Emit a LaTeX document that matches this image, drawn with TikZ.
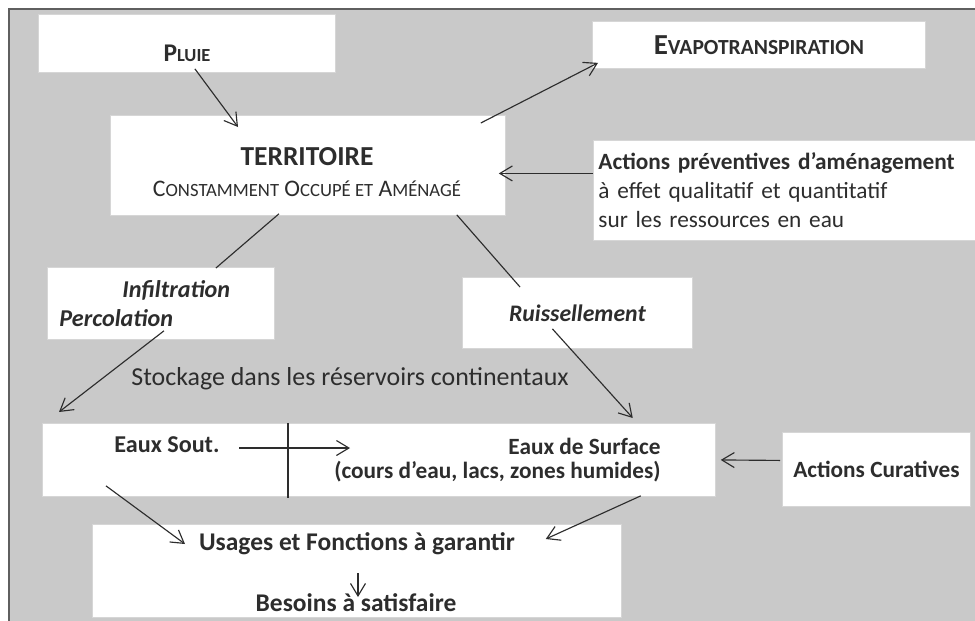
\documentclass[tikz,border=0pt]{standalone}
\usepackage{fontspec}
\setmainfont{Carlito}[Scale=1.25]
\usepackage{tikz}
\usetikzlibrary{positioning,calc,arrows.meta}

\definecolor{bgray}{RGB}{201,201,201}
\definecolor{frameline}{RGB}{95,95,95}
\definecolor{boxline}{RGB}{214,214,214}
\definecolor{ink}{RGB}{45,45,45}
\newcommand{\fsz}[2]{\fontsize{#1}{#2}\selectfont}

\begin{document}
\begin{tikzpicture}[x=0.02cm, y=-0.02cm,
    box/.style={draw=boxline, fill=white, line width=0.5pt, inner sep=0pt, anchor=north west, text=ink},
    txt/.style={inner sep=0pt, text=ink},
    link/.style={draw=ink, line width=0.65pt},
    arr/.style={link, -{Straight Barb[length=2.5mm, width=3mm]}}]

  % Page and frame
  \useasboundingbox (0,0) rectangle (975,620);
  \clip (0,0) rectangle (975,620);
  \fill[white] (0,0) rectangle (975,620);
  \filldraw[fill=bgray, draw=frameline, line width=1.2pt] (9,9) rectangle (995,640);

  % Top row
  \node[box, minimum width=5.94cm, minimum height=1.16cm] (pluie) at (38,14) {};
  \node[txt, font=\bfseries\fsz{11.6}{14}] (pluietxt) at (187,53) {P{\fsz{8.4}{10}LUIE}};
  \node[box, minimum width=6.66cm, minimum height=0.94cm, font=\bfseries\fsz{13.2}{16}] (evapo) at (592,21)
    {E{\fsz{9.8}{12}VAPOTRANSPIRATION}};

  % Territoire
  \node[box, minimum width=7.9cm, minimum height=2cm] (terr) at (110,115) {};
  \node[txt, align=center, font=\fsz{10.8}{18.1}] (terrtxt) at (307,172) {{\bfseries\fsz{12.5}{18.1}TERRITOIRE}\\
    C{\fsz{8.5}{10}ONSTAMMENT} O{\fsz{8.5}{10}CCUPÉ ET} A{\fsz{8.5}{10}MÉNAGÉ}};
  \node[box, minimum width=7.9cm, minimum height=2cm, inner xsep=0.1cm, text width=7.7cm, align=left,
    font=\fsz{10.6}{16.5}] (prev) at (593,140) {{\bfseries Actions préventives d’aménagement}\\
    à effet qualitatif et quantitatif\\ sur les ressources en eau};

  % Flows
  \node[box, minimum width=4.54cm, minimum height=1.44cm, inner xsep=0.24cm, text width=4.06cm,
    align=left, font=\bfseries\itshape\fsz{11}{16.5}] (infil) at (47,267) {\hspace*{1.26cm}Infiltration\\Percolation};
  \node[box, minimum width=4.6cm, minimum height=1.42cm, font=\bfseries\itshape\fsz{10.8}{13}] (ruis) at (462,277) {Ruissellement};
  \node[txt, font=\fsz{11.8}{14}] (stock) at (350,379) {Stockage dans les réservoirs continentaux};

  % Reservoirs
  \node[box, minimum width=13.46cm, minimum height=1.46cm] (eaux) at (42,423) {};
  \node[txt, font=\bfseries\fsz{11}{13}] (soutxt) at (167,445) {Eaux Sout.};
  \node[txt, font=\bfseries\fsz{10.6}{13.8}, align=right, anchor=east] (surftxt) at (661,460)
    {Eaux de Surface\\(cours d’eau, lacs, zones humides)};
  \node[box, minimum width=3.76cm, minimum height=1.48cm, font=\bfseries\fsz{10.6}{13}] (curat) at (782,432) {Actions Curatives};

  % Usages
  \node[box, minimum width=10.58cm, minimum height=1.86cm] (usag) at (92,524) {};
  \node[txt, font=\bfseries\fsz{11.6}{14}] (usatxt) at (357,544) {Usages et Fonctions à garantir};
  \node[txt, font=\bfseries\fsz{11.6}{14}] (besoin) at (356,603) {Besoins à satisfaire};

  % Connectors
  \draw[arr] ($(pluie.south)+(8,-4)$) -- ($(terr.north west)+(128,12)$);
  \draw[arr] ($(terr.north east)+(-25,8)$) -- ($(evapo.south west)+(6,-6)$);
  \draw[arr] ($(prev.west)+(0,-17)$) -- ($(terr.east)+(-7,8)$);
  \draw[link] ($(terr.south)+(-29,-2)$) -- ($(infil.north)+(55,1)$);
  \draw[link] ($(terr.south east)+(-49,-1)$) -- ($(ruis.north west)+(58,10)$);
  \draw[arr] ($(infil.south)+(3,-9)$) -- ($(eaux.north west)+(17,-11)$);
  \draw[arr] ($(ruis.south)+(-25,-20)$) -- ($(eaux.north east)+(-83,-5)$);
  \draw[link] ($(eaux.north west)+(246,0)$) -- ($(eaux.south west)+(246,1)$);
  \draw[arr] ($(eaux.north west)+(197,25)$) -- ($(eaux.north west)+(308,25)$);
  \draw[arr] ($(curat.west)+(-2,-9)$) -- ($(eaux.east)+(5,0)$);
  \draw[arr] ($(eaux.south west)+(64,-11)$) -- ($(usag.north west)+(93,20)$);
  \draw[arr] ($(eaux.south east)+(-75,-1)$) -- ($(usag.north east)+(-76,15)$);
  \draw[arr] ($(usag.north west)+(266,49)$) -- ($(usag.north west)+(266,73)$);
\end{tikzpicture}
\end{document}
